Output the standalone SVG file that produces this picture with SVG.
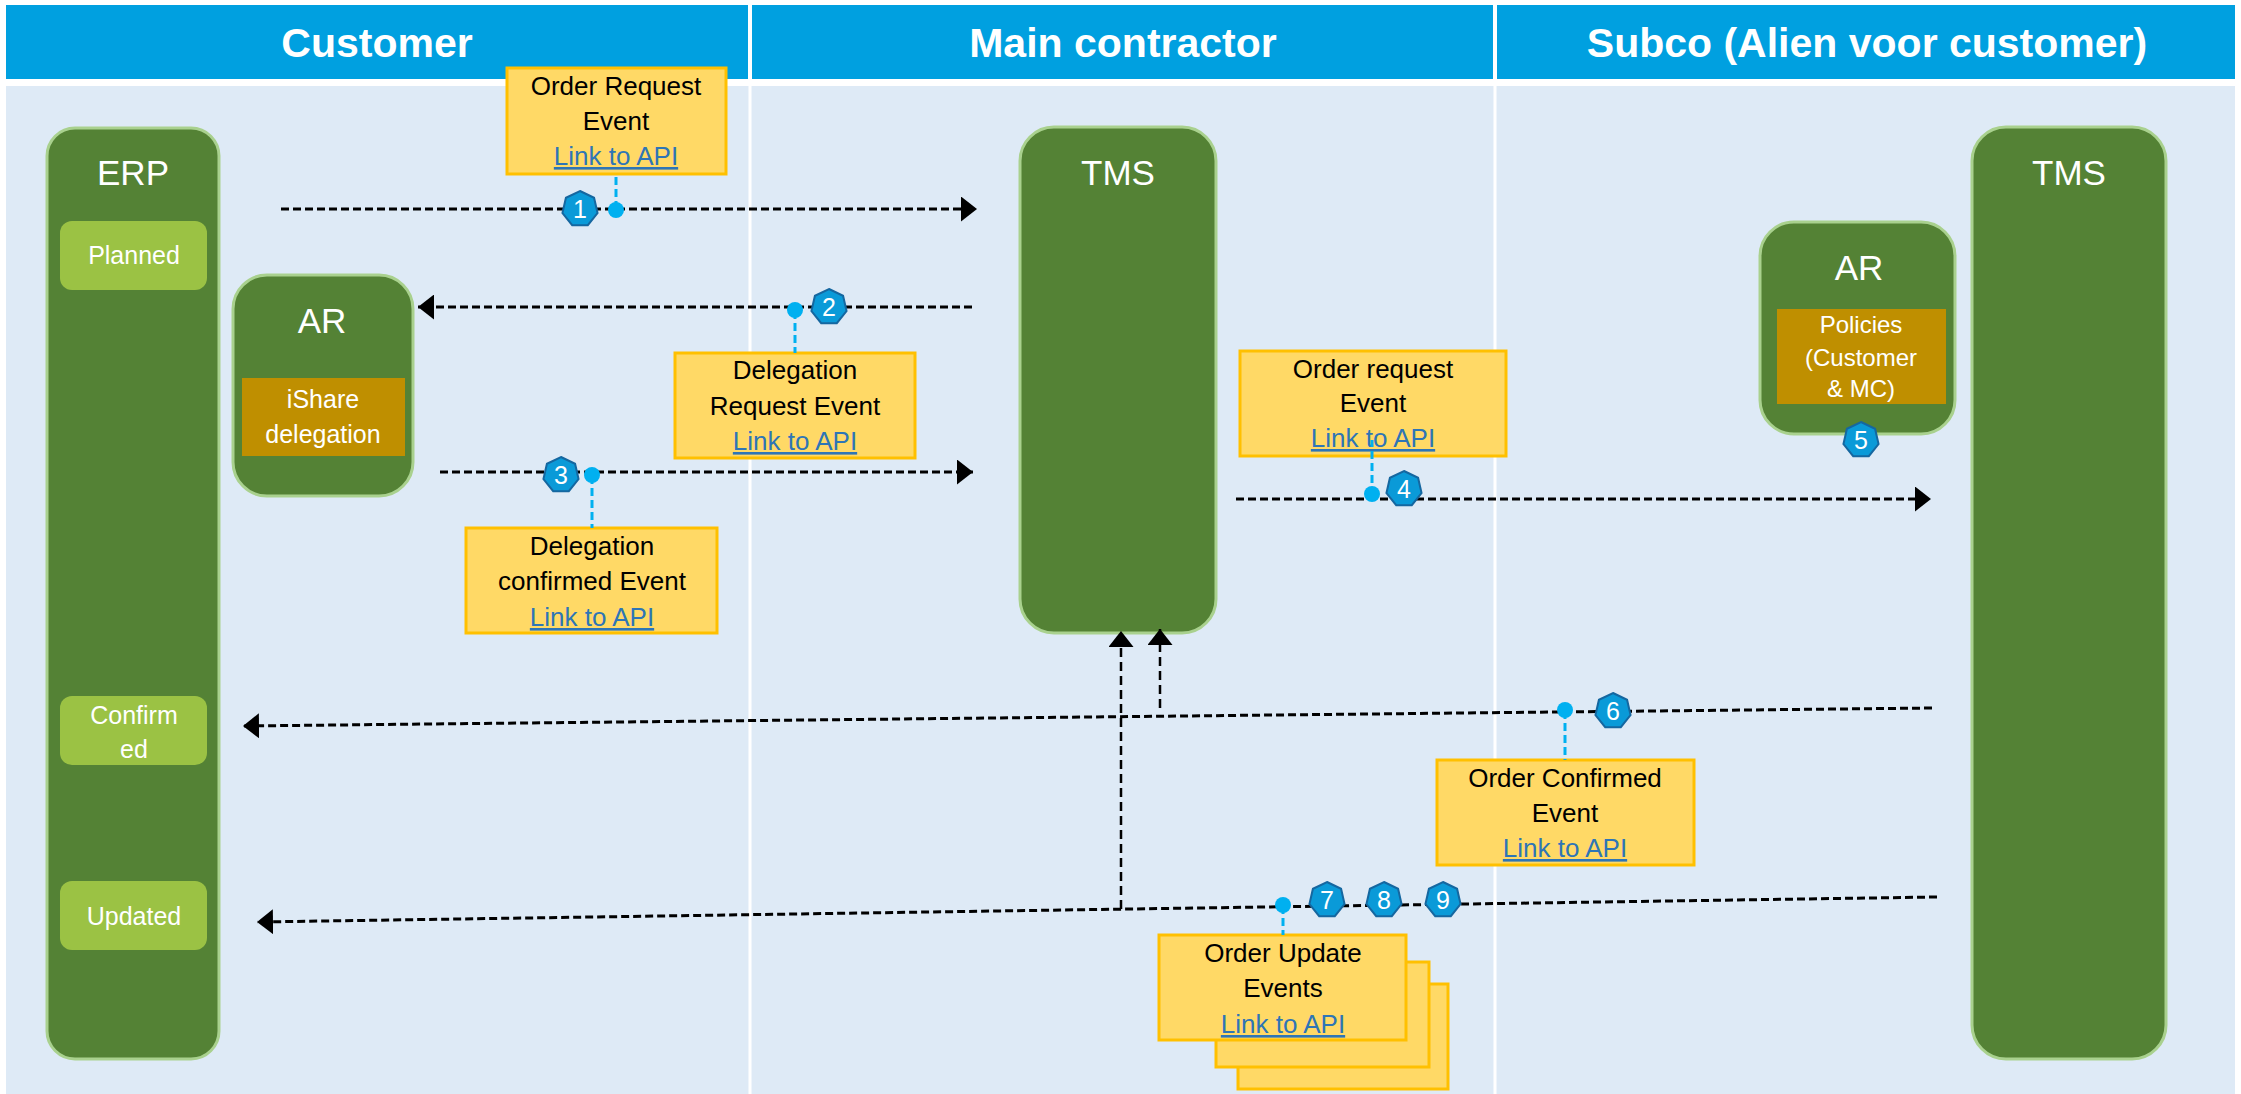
<svg xmlns="http://www.w3.org/2000/svg" xmlns:xlink="http://www.w3.org/1999/xlink" width="2241" height="1094" viewBox="0 0 2241 1094">
<style>
.hdr{fill:#00A0E0}
.hdrt{font-family:"Liberation Sans",Arial,sans-serif;font-weight:bold;font-size:41px;fill:#fff;text-anchor:middle}
.sys{fill:#548235;stroke:#A9D18E;stroke-width:3}
.syst{font-family:"Liberation Sans",Arial,sans-serif;font-size:35px;fill:#fff;text-anchor:middle}
.st{fill:#9BC244}
.stt{font-family:"Liberation Sans",Arial,sans-serif;font-size:25px;fill:#fff;text-anchor:middle}
.gold{fill:#BF8F00}
.goldt{font-family:"Liberation Sans",Arial,sans-serif;font-size:24px;fill:#fff;text-anchor:middle}
.ev{fill:#FFD966;stroke:#FFC000;stroke-width:3}
.evt{font-family:"Liberation Sans",Arial,sans-serif;font-size:26px;fill:#000;text-anchor:middle}
.lnk{fill:#2E75B6;text-decoration:underline}
.flow{fill:none;stroke:#000;stroke-width:3;stroke-dasharray:8 4}
.vflow{fill:none;stroke:#000;stroke-width:2.5;stroke-dasharray:9 5}
.lead{fill:none;stroke:#00B0F0;stroke-width:3;stroke-dasharray:8 4}
.dot{fill:#00B0F0}
.bdg{fill:#0A9AD8;stroke:#1567A0;stroke-width:2}
.bdgt{font-family:"Liberation Sans",Arial,sans-serif;font-size:25px;fill:#fff;text-anchor:middle}
</style>
<defs>
<marker id="arr" viewBox="0 0 16 25" refX="16" refY="12.5" markerWidth="16" markerHeight="25" markerUnits="userSpaceOnUse" orient="auto">
<path d="M0,0 L16,12.5 L0,25 Z" fill="#000"/>
</marker>
<polygon id="hept" points="0,-18 14.07,-11.22 17.55,4 7.81,16.22 -7.81,16.22 -17.55,4 -14.07,-11.22"/>
</defs>

<g id="lanes">
<rect x="0" y="0" width="2241" height="1094" fill="#fff"/>
<rect x="6" y="86" width="2229" height="1008" fill="#DEEAF6"/>
<line x1="750" y1="86" x2="750" y2="1094" stroke="#fff" stroke-width="3"/>
<line x1="1495" y1="86" x2="1495" y2="1094" stroke="#fff" stroke-width="3"/>
<rect class="hdr" x="6" y="5" width="742" height="74"/>
<rect class="hdr" x="752" y="5" width="741" height="74"/>
<rect class="hdr" x="1497" y="5" width="738" height="74"/>
<text class="hdrt" x="377" y="57">Customer</text>
<text class="hdrt" x="1123" y="57">Main contractor</text>
<text class="hdrt" x="1867" y="57">Subco (Alien voor customer)</text>
</g>

<g id="erp">
<rect class="sys" x="47" y="128" width="172" height="931" rx="28"/>
<text class="syst" x="133" y="185">ERP</text>
</g>
<g id="state-planned">
<rect class="st" x="60" y="221" width="147" height="69" rx="12"/>
<text class="stt" x="134" y="264">Planned</text>
</g>
<g id="state-confirmed">
<rect class="st" x="60" y="696" width="147" height="69" rx="12"/>
<text class="stt" x="134" y="724">Confirm</text>
<text class="stt" x="134" y="758">ed</text>
</g>
<g id="state-updated">
<rect class="st" x="60" y="881" width="147" height="69" rx="12"/>
<text class="stt" x="134" y="925">Updated</text>
</g>

<g id="ar-customer">
<rect class="sys" x="233" y="275" width="180" height="221" rx="34"/>
<text class="syst" x="322" y="333">AR</text>
<rect class="gold" x="242" y="378" width="163" height="78"/>
<text class="goldt" x="323" y="408" style="font-size:25px">iShare</text>
<text class="goldt" x="323" y="443" style="font-size:25px">delegation</text>
</g>

<g id="tms-main">
<rect class="sys" x="1020" y="127" width="196" height="506" rx="34"/>
<text class="syst" x="1118" y="185">TMS</text>
</g>

<g id="ar-subco">
<rect class="sys" x="1760" y="222" width="195" height="212" rx="34"/>
<text class="syst" x="1859" y="280">AR</text>
<rect class="gold" x="1777" y="309" width="169" height="95"/>
<text class="goldt" x="1861" y="333">Policies</text>
<text class="goldt" x="1861" y="366">(Customer</text>
<text class="goldt" x="1861" y="397">&amp; MC)</text>
</g>

<g id="tms-subco">
<rect class="sys" x="1972" y="127" width="194" height="932" rx="34"/>
<text class="syst" x="2069" y="185">TMS</text>
</g>

<g id="ev-order-request">
<rect class="ev" x="507" y="68" width="219" height="106"/>
<text class="evt" x="616" y="95">Order Request</text>
<text class="evt" x="616" y="130">Event</text>
<text class="evt lnk" x="616" y="165">Link to API</text>
</g>
<g id="ev-delegation-request">
<rect class="ev" x="675" y="353" width="240" height="105"/>
<text class="evt" x="795" y="379">Delegation</text>
<text class="evt" x="795" y="415">Request Event</text>
<text class="evt lnk" x="795" y="450">Link to API</text>
</g>
<g id="ev-delegation-confirmed">
<rect class="ev" x="466" y="528" width="251" height="105"/>
<text class="evt" x="592" y="555">Delegation</text>
<text class="evt" x="592" y="590">confirmed Event</text>
<text class="evt lnk" x="592" y="626">Link to API</text>
</g>
<g id="ev-order-request-sub">
<rect class="ev" x="1240" y="351" width="266" height="105"/>
<text class="evt" x="1373" y="378">Order request</text>
<text class="evt" x="1373" y="412">Event</text>
<text class="evt lnk" x="1373" y="447">Link to API</text>
</g>
<g id="ev-order-confirmed">
<rect class="ev" x="1437" y="760" width="257" height="105"/>
<text class="evt" x="1565" y="787">Order Confirmed</text>
<text class="evt" x="1565" y="822">Event</text>
<text class="evt lnk" x="1565" y="857">Link to API</text>
</g>
<g id="ev-order-updates">
<rect class="ev" x="1238" y="984" width="210" height="105"/>
<rect class="ev" x="1216" y="962" width="213" height="105"/>
<rect class="ev" x="1159" y="935" width="247" height="105"/>
<text class="evt" x="1283" y="962">Order Update</text>
<text class="evt" x="1283" y="997">Events</text>
<text class="evt lnk" x="1283" y="1033">Link to API</text>
</g>

<g id="connectors">
<line class="flow" x1="281" y1="209" x2="977" y2="209" marker-end="url(#arr)"/>
<line class="flow" x1="972" y1="307" x2="418" y2="307" marker-end="url(#arr)"/>
<line class="flow" x1="440" y1="472" x2="973" y2="472" marker-end="url(#arr)"/>
<line class="flow" x1="1236" y1="499" x2="1931" y2="499" marker-end="url(#arr)"/>
<line class="flow" x1="1932" y1="708" x2="243" y2="726" marker-end="url(#arr)"/>
<line class="flow" x1="1937" y1="897" x2="257" y2="922" marker-end="url(#arr)"/>
<line class="vflow" x1="1121" y1="909" x2="1121" y2="631" marker-end="url(#arr)"/>
<line class="vflow" x1="1160" y1="708" x2="1160" y2="629" marker-end="url(#arr)"/>
<line class="lead" x1="616" y1="209" x2="616" y2="174"/>
<line class="lead" x1="795" y1="311" x2="795" y2="353"/>
<line class="lead" x1="592" y1="476" x2="592" y2="528"/>
<line class="lead" x1="1372" y1="495" x2="1372" y2="440"/>
<line class="lead" x1="1565" y1="711" x2="1565" y2="760"/>
<line class="lead" x1="1283" y1="906" x2="1283" y2="935"/>
<circle class="dot" cx="616" cy="210" r="8"/>
<circle class="dot" cx="795" cy="310" r="8"/>
<circle class="dot" cx="592" cy="475" r="8"/>
<circle class="dot" cx="1372" cy="494" r="8"/>
<circle class="dot" cx="1565" cy="710" r="8"/>
<circle class="dot" cx="1283" cy="905" r="8"/>
</g>

<g id="badges">
<g id="badge-1"><use xlink:href="#hept" href="#hept" class="bdg" x="580" y="209"/><text class="bdgt" x="580" y="218">1</text></g>
<g id="badge-2"><use xlink:href="#hept" href="#hept" class="bdg" x="829" y="307"/><text class="bdgt" x="829" y="316">2</text></g>
<g id="badge-3"><use xlink:href="#hept" href="#hept" class="bdg" x="561" y="475"/><text class="bdgt" x="561" y="484">3</text></g>
<g id="badge-4"><use xlink:href="#hept" href="#hept" class="bdg" x="1404" y="489"/><text class="bdgt" x="1404" y="498">4</text></g>
<g id="badge-5"><use xlink:href="#hept" href="#hept" class="bdg" x="1861" y="440"/><text class="bdgt" x="1861" y="449">5</text></g>
<g id="badge-6"><use xlink:href="#hept" href="#hept" class="bdg" x="1613" y="711"/><text class="bdgt" x="1613" y="720">6</text></g>
<g id="badge-7"><use xlink:href="#hept" href="#hept" class="bdg" x="1327" y="900"/><text class="bdgt" x="1327" y="909">7</text></g>
<g id="badge-8"><use xlink:href="#hept" href="#hept" class="bdg" x="1384" y="900"/><text class="bdgt" x="1384" y="909">8</text></g>
<g id="badge-9"><use xlink:href="#hept" href="#hept" class="bdg" x="1443" y="900"/><text class="bdgt" x="1443" y="909">9</text></g>
</g>
</svg>
